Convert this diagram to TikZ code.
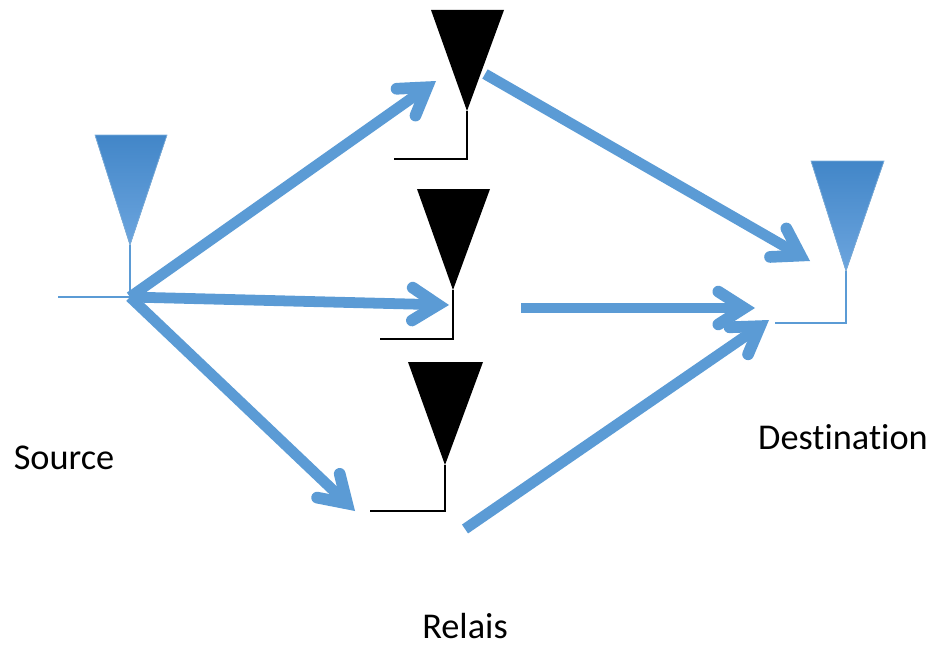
\documentclass[tikz,border=0pt]{standalone}
\usepackage{fontspec}
\setmainfont{Carlito}[Ligatures=NoCommon]
\usetikzlibrary{arrows.meta}
\definecolor{linkblue}{HTML}{5B9BD5}
\definecolor{toptop}{HTML}{4286C8}
\definecolor{topend}{HTML}{6CA5DE}
\tikzset{
  link/.style={draw=linkblue, line width=9.2pt, -{Straight Barb[length=22pt, width=28pt, line width=10pt, line cap=round, line join=miter]}},
  wire/.style={draw=black, line width=1.6pt},
  bluewire/.style={draw=linkblue, line width=1.6pt},
  relaytop/.style={fill=black},
  endtop/.style={top color=toptop, bottom color=topend, draw=linkblue!80!white, line width=.6pt},
  label/.style={font=\fontsize{31pt}{34pt}\selectfont, inner sep=0pt}
}
\begin{document}
\begin{tikzpicture}[x=.03cm, y=-.03cm]
  \useasboundingbox (0,0) rectangle (935,646);
  % antennas
  \coordinate (s) at (130,245);
  \coordinate (d) at (846,271);
  \coordinate (ra) at (467,111);
  \coordinate (rb) at (453,290);
  \coordinate (rc) at (445,465);
  \coordinate (sfoot) at (130,297);
  \coordinate (dfoot) at (846,323);
  \coordinate (rafoot) at (467,159);
  \coordinate (rbfoot) at (453,339);
  \coordinate (rcfoot) at (445,511);
  \filldraw[endtop] (95,135) -- (167,135) -- (s) -- cycle;
  \filldraw[endtop] (811,161) -- (884,161) -- (d) -- cycle;
  \fill[relaytop] (431,10) -- (504,10) -- (ra) -- cycle;
  \fill[relaytop] (417,189) -- (490,189) -- (rb) -- cycle;
  \fill[relaytop] (408,362) -- (483,362) -- (rc) -- cycle;
  \draw[bluewire] (s) -- (sfoot) -- (58,297);
  \draw[bluewire] (d) -- (dfoot) -- (775,323);
  \draw[wire] (ra) -- (rafoot) -- (394,159);
  \draw[wire] (rb) -- (rbfoot) -- (380,339);
  \draw[wire] (rc) -- (rcfoot) -- (370,511);
  % links
  \coordinate (atop) at (436,81);
  \coordinate (amid) at (449,305);
  \coordinate (alow) at (355,511);
  \coordinate (btop) at (485,74);
  \coordinate (bmid) at (521,308);
  \coordinate (blow) at (465,529);
  \coordinate (ctop) at (810,261);
  \coordinate (cmid) at (755,308);
  \coordinate (clow) at (769,320);
  \draw[link] (sfoot) -- (atop);
  \draw[link] (sfoot) -- (amid);
  \draw[link] (sfoot) -- (alow);
  \draw[link] (btop) -- (ctop);
  \draw[link] (bmid) -- (cmid);
  \draw[link] (blow) -- (clow);
  % labels
  \node[label] (source) at (64,458) {Source};
  \node[label] (destination) at (843,437) {Destination};
  \node[label] (relais) at (465,626) {Relais};
\end{tikzpicture}
\end{document}
